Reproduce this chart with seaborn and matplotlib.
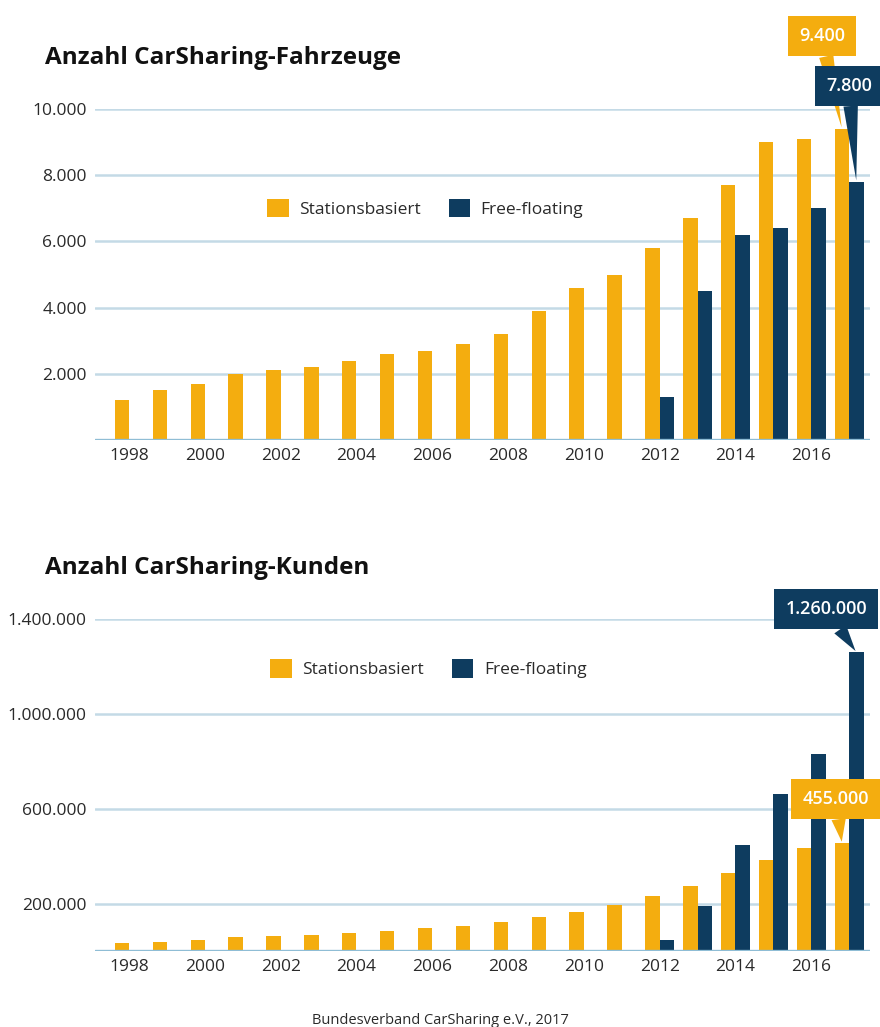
import matplotlib
matplotlib.use("Agg")
import matplotlib.pyplot as plt
import seaborn as sns
import pandas as pd

years = list(range(1998, 2018))
fz_station = [1200, 1500, 1700, 2000, 2100, 2200, 2400, 2600, 2700, 2900,
              3200, 3900, 4600, 5000, 5800, 6700, 7700, 9000, 9100, 9400]
fz_free = [0, 0, 0, 0, 0, 0, 0, 0, 0, 0,
           0, 0, 0, 0, 1300, 4500, 6200, 6400, 7000, 7800]
kd_station = [33000, 37000, 47000, 57000, 64000, 68000, 78000, 86000, 95000, 104000,
              124000, 145000, 166000, 196000, 232000, 276000, 328000, 384000, 435000, 455000]
kd_free = [0, 0, 0, 0, 0, 0, 0, 0, 0, 0,
           0, 0, 0, 0, 47000, 190000, 445000, 660000, 830000, 1260000]
series_names = ["Stationsbasiert", "Free-floating"]
titles = ["Anzahl CarSharing-Fahrzeuge", "Anzahl CarSharing-Kunden"]
fz_ticks = [2000, 4000, 6000, 8000, 10000]
kd_ticks = [200000, 600000, 1000000, 1400000]
source = "Bundesverband CarSharing e.V., 2017"

ORANGE = "#F4AD0F"
BLUE = "#0E3C5F"
GRID = "#C4DAE6"
BASE = "#8FBDD5"
TXT = "#2a2a2a"

sns.set_theme(style="white")
plt.rcParams["font.family"] = ["Open Sans", "DejaVu Sans"]

W, H = 880, 1027
fig = plt.figure(figsize=(W / 100, H / 100), dpi=100)


def fmt(v):
    return f"{int(v):,}".replace(",", ".")


def axes_px(left, top, right, bottom):
    return fig.add_axes([left / W, 1 - bottom / H, (right - left) / W, (bottom - top) / H])


def make_panel(ax, st, ff, ticks, ymax, legend_xy):
    df = pd.DataFrame({
        "year": [str(y) for y in years] * 2,
        "value": st + ff,
        "type": [series_names[0]] * len(years) + [series_names[1]] * len(years),
    })
    sns.barplot(data=df, x="year", y="value", hue="type", palette=[ORANGE, BLUE],
                width=0.76, saturation=1, ax=ax, edgecolor="none")
    ax.set_ylim(0, ymax)
    ax.set_xlim(-0.9, 19.55)
    ax.set_yticks(ticks)
    ax.set_yticklabels([fmt(t) for t in ticks], fontsize=12.5, color=TXT)
    idx = list(range(0, len(years), 2))
    ax.set_xticks(idx)
    ax.set_xticklabels([str(years[i]) for i in idx], fontsize=12.5, color=TXT)
    ax.tick_params(axis="both", length=0, pad=6)
    ax.set_xlabel("")
    ax.set_ylabel("")
    for s in ax.spines.values():
        s.set_visible(False)
    ax.yaxis.grid(True, color=GRID, linewidth=1.8)
    ax.set_axisbelow(True)
    ax.axhline(0, color=BASE, linewidth=2.4, zorder=5)
    ax.legend(loc="center", bbox_to_anchor=legend_xy, ncol=2, frameon=False,
              fontsize=12.5, handlelength=1.25, handleheight=1.25,
              columnspacing=1.6, handletextpad=0.6, labelcolor=TXT)


def callout(ax, text, xy, xytext, color):
    ax.annotate(text, xy=xy, xytext=xytext, textcoords="data",
                ha="center", va="center", fontsize=13, color="white",
                fontweight="semibold", annotation_clip=False,
                bbox=dict(boxstyle="square,pad=0.62", fc=color, ec="none"),
                arrowprops=dict(arrowstyle="wedge,tail_width=0.8,shrink_factor=0.5",
                                fc=color, ec="none", shrinkA=0, shrinkB=1),
                zorder=10)


ax1 = axes_px(95, 109, 870, 440)
make_panel(ax1, fz_station, fz_free, fz_ticks, 10000, (0.426, 0.70))
n = len(years) - 1
callout(ax1, fmt(fz_station[-1]), (n - 0.19, fz_station[-1]), (n - 0.72, 12200), ORANGE)
callout(ax1, fmt(fz_free[-1]), (n + 0.19, fz_free[-1]), (n + 0.0, 10700), BLUE)

ax2 = axes_px(95, 619, 870, 951)
make_panel(ax2, kd_station, kd_free, kd_ticks, 1400000, (0.43, 0.85))
callout(ax2, fmt(kd_free[-1]), (n + 0.19, kd_free[-1]), (n - 0.61, 1442000), BLUE)
callout(ax2, fmt(kd_station[-1]), (n - 0.19, kd_station[-1]), (n - 0.35, 641000), ORANGE)

fig.text(45 / W, 1 - 58 / H, titles[0], fontsize=17.5, fontweight="bold",
         color="#111111", ha="left", va="center")
fig.text(45 / W, 1 - 568 / H, titles[1], fontsize=17.5, fontweight="bold",
         color="#111111", ha="left", va="center")
fig.text(440 / W, 1 - 1020 / H, source, fontsize=10.5, color=TXT,
         ha="center", va="center")

fig.savefig("out.png", dpi=100, facecolor="white")
